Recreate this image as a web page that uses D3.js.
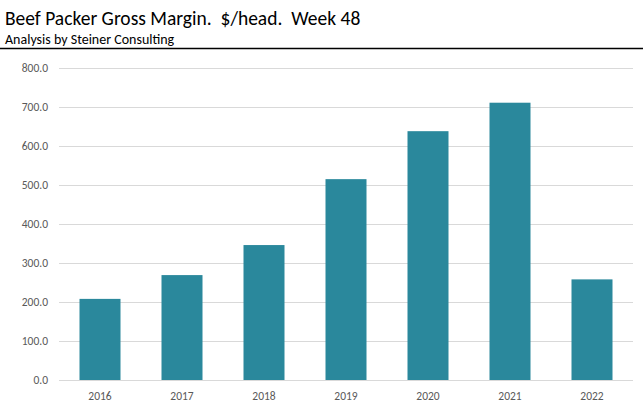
<!DOCTYPE html>
<html><head><meta charset="utf-8">
<script src="https://cdn.jsdelivr.net/npm/d3@7"></script>
<style>body{margin:0;background:#fff} text{white-space:pre}</style>
</head><body>
<svg id="c" width="643" height="409"></svg>
<script>
const categories = ["2016","2017","2018","2019","2020","2021","2022"];
const values = [208, 269, 346, 515, 638, 711, 258];
const yTicks = [0,100,200,300,400,500,600,700,800];

const svg = d3.select("#c");
const font = "Carlito, Calibri, Lato, 'Open Sans', sans-serif";
const x = d3.scaleBand().domain(categories).range([59, 633]).paddingInner(0.5).paddingOuter(0.25);
const y = d3.scaleLinear().domain([0, 800]).range([380, 68]);

svg.append("text").attr("x", 5).attr("y", 25).attr("font-family", font).attr("font-size", 19.5).attr("fill", "#000")
  .attr("xml:space", "preserve")
  .text("Beef Packer Gross Margin.  $/head.  Week 48");
svg.append("text").attr("x", 5).attr("y", 44).attr("font-family", font).attr("font-size", 14).attr("fill", "#000")
  .text("Analysis by Steiner Consulting");
svg.append("line").attr("x1", 0).attr("x2", 643).attr("y1", 48.5).attr("y2", 48.5).attr("stroke", "#000").attr("stroke-width", 1.6);

const ya = svg.append("g").attr("transform", "translate(59,0)")
  .call(d3.axisLeft(y).tickValues(yTicks).tickFormat(d3.format(".1f")).tickSize(-574).tickPadding(11));
ya.select(".domain").remove();
ya.selectAll(".tick line").attr("stroke", "#d9d9d9").attr("stroke-width", 1);
ya.selectAll(".tick text").attr("font-family", font).attr("font-size", 11.5).attr("fill", "#595959");

const xa = svg.append("g").attr("transform", "translate(0,380)")
  .call(d3.axisBottom(x).tickSize(0).tickPadding(12));
xa.select(".domain").remove();
xa.selectAll(".tick text").attr("font-family", font).attr("font-size", 11.5).attr("fill", "#595959");

svg.append("g").selectAll("rect").data(values).join("rect")
  .attr("x", (d, i) => x(categories[i]))
  .attr("width", x.bandwidth())
  .attr("y", d => y(d))
  .attr("height", d => y(0) - y(d))
  .attr("fill", "#2a889c");
</script>
</body></html>
